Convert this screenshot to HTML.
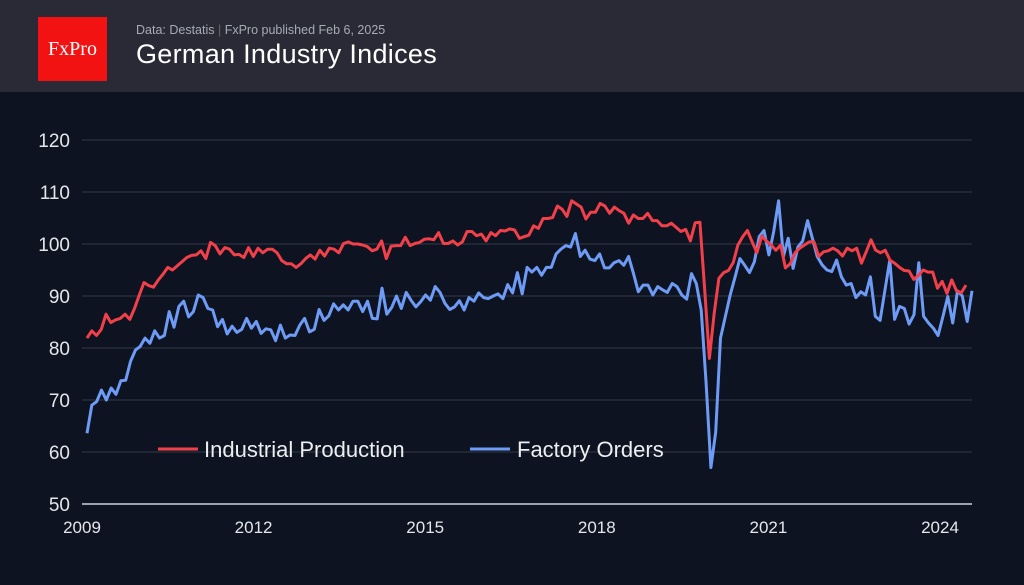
<!DOCTYPE html>
<html><head><meta charset="utf-8"><style>
body{margin:0;width:1024px;height:585px;background:#0d1320;overflow:hidden;font-family:"Liberation Sans",sans-serif}
#hdr{position:absolute;left:0;top:0;width:1024px;height:92px;background:#292a35}
#logo{position:absolute;left:38px;top:17px;width:69px;height:64px;background:#f31212;color:#fff;font-family:"Liberation Serif",serif;font-size:20px;line-height:64px;text-align:center}
#sub{position:absolute;left:136px;top:23px;color:#a8aab4;font-size:12.5px}
#title{position:absolute;left:136px;top:39px;color:#fff;font-size:27px;font-weight:500;letter-spacing:0.3px}
svg{position:absolute;left:0;top:0}
</style></head><body>
<div id="hdr">
<div id="logo">FxPro</div>
<div id="sub">Data: Destatis <span style="color:#666">|</span> FxPro published Feb 6, 2025</div>
<div id="title">German Industry Indices</div>
</div>
<svg id="chart" width="1024" height="585"></svg>
<script>
const yTicks=[50,60,70,80,90,100,110,120];
const xTickYears=[2009,2012,2015,2018,2021,2024];
const seriesNames=["Industrial Production","Factory Orders"];
const production=[81.9,83.3,82.4,83.6,86.5,84.9,85.4,85.7,86.5,85.5,87.6,90.2,92.6,92,91.7,93.1,94.2,95.5,95,95.8,96.6,97.4,97.8,97.9,98.7,97.2,100.3,99.7,98.1,99.3,99,97.9,98,97.4,99.3,97.6,99.2,98.3,99,99,98.3,96.8,96.2,96.2,95.5,96.2,97.2,97.9,97.1,98.8,97.7,99.2,99,98.3,100.1,100.4,100,100,99.8,99.5,98.7,99,100.6,97.2,99.6,99.7,99.7,101.3,99.7,100.1,100.3,100.9,101,100.8,102.2,100.1,100.1,100.6,99.8,100.4,102.4,102.4,101.6,101.9,100.6,102.2,101.6,102.6,102.5,102.9,102.7,101.1,101.4,
101.7,103.5,103,104.9,104.9,105.1,107.3,106.7,105.3,108.3,107.7,107.1,104.8,106.1,106.1,107.8,107.3,105.9,107.1,106.4,105.9,104,105.6,104.9,104.9,105.9,104.5,104.5,103.5,103.5,104,103.2,102.4,102.8,100.6,104.1,104.2,91.2,78,86.7,93.4,94.5,94.9,96.4,99.8,101.4,102.6,100.4,98.3,101.5,100.6,99.8,98.8,99.8,95.4,96.2,98.3,99.2,99.8,100.4,100.4,97.6,98.5,98.7,99.2,98.7,97.7,99.2,98.7,99.2,96.3,98.5,100.8,98.8,98.3,98.8,96.9,96.3,95.5,94.9,94.8,93.2,94,95,94.6,94.6,91.5,92.8,90.5,93.1,91,90.6,92.1];
const orders=[63.6,69,69.7,71.9,70,72.3,71.1,73.7,73.8,77.4,79.6,80.3,81.9,80.9,83.3,81.9,82.4,87,84,88,89,86,87,90.2,89.7,87.6,87.3,84.1,85.5,82.7,84.2,83,83.6,85.7,83.8,85.1,82.8,83.7,83.5,81.4,84.4,81.9,82.5,82.4,84.4,85.7,83.1,83.6,87.4,85.3,86.2,88.5,87.3,88.3,87.3,89,89,87,89,85.7,85.6,91.5,86.5,87.8,90,87.6,90.7,89.2,87.9,88.9,90.2,89.2,91.8,90.7,88.6,87.4,87.9,89.1,87.3,89.7,89,90.6,89.7,89.5,90,90.4,89.5,92.2,90.6,94.5,
90.4,95.5,94.6,95.5,94,95.5,95.5,98.1,99,99.7,99.4,102,97.6,98.8,97.1,96.8,98.1,95.4,95.4,96.4,96.8,95.9,97.6,94.3,90.8,92.1,92.1,90.2,91.8,91.2,90.7,92.4,91.8,90.2,89.4,94.3,92.4,87.3,73.6,57,63.8,81.9,86.1,90.2,93.6,97.2,95.9,94.5,96.6,101.4,102.6,97.9,102.4,108.3,97.6,101.1,95.3,99.4,100.6,104.5,101.1,97.6,96,95,94.7,96.9,93.7,92.1,92.4,89.7,90.8,90.2,93.7,86.1,85.3,91.2,96.9,85.5,88,87.6,84.6,86.4,96.4,86.1,84.8,83.8,82.4,86.1,89.9,84.8,91,90,85.1,91];
const NS="http://www.w3.org/2000/svg";
const svg=document.getElementById('chart');
const X0=87;
function xi(i,n,end){return X0+i*(end-X0)/(n-1);}
function xYear(y){return 82+(y-2009)*57.2;}
function yv(v){return 504-(v-50)*5.2;}
function mk(t,a,p){const e=document.createElementNS(NS,t);for(const k in a)e.setAttribute(k,a[k]);(p||svg).appendChild(e);return e;}
yTicks.forEach(v=>{
 const g=mk('line',{x1:82,x2:972,y1:yv(v),y2:yv(v),stroke:v===50?'#d0d3da':'#262c3b','stroke-width':1.5});
 
 
 const t=mk('text',{x:70,y:yv(v)+7,fill:'#e4e6ea','font-size':19,'text-anchor':'end','font-family':'Liberation Sans, sans-serif'});
 t.textContent=v;
 
 
});
xTickYears.forEach(y=>{
 const t=mk('text',{x:xYear(y),y:533,fill:'#e4e6ea','font-size':17,'text-anchor':'middle','font-family':'Liberation Sans, sans-serif'});
 t.textContent=y;
 
 
});
function line(arr,end,color,name){
 const d=arr.map((v,i)=>(i?'L':'M')+xi(i,arr.length,end).toFixed(1)+','+yv(v).toFixed(1)).join('');
 const p=mk('path',{d:d,fill:'none',stroke:color,'stroke-width':3,'stroke-linejoin':'round'});
 
 
}
line(orders,972,'#6e9bf5','factory-orders-line');
line(production,966,'#f2404a','industrial-production-line');
[[158,204,'#f2404a',0,'legend-industrial-production'],[470,517,'#6e9bf5',1,'legend-factory-orders']].forEach(l=>{
 const ln=mk('line',{x1:l[0],x2:l[0]+40,y1:449,y2:449,stroke:l[2],'stroke-width':3});
 
 
 const t=mk('text',{x:l[1],y:457,fill:'#eceef2','font-size':22,'font-family':'Liberation Sans, sans-serif'});
 t.textContent=seriesNames[l[3]];
 
 
});
</script>
</body></html>
